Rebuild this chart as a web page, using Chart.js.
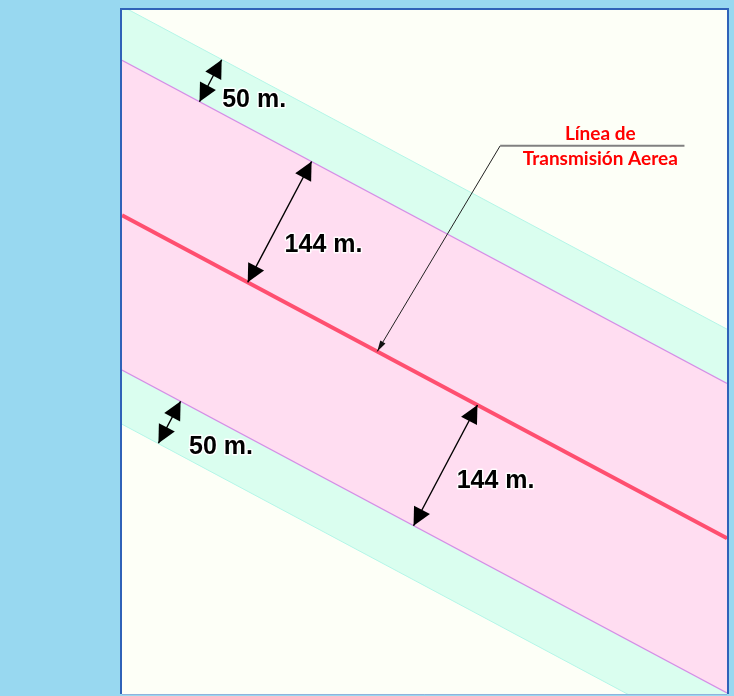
<!DOCTYPE html>
<html>
<head>
<meta charset="utf-8">
<script src="https://cdn.jsdelivr.net/npm/chart.js@4.4.1/dist/chart.umd.min.js"></script>
<style>
  html, body { margin: 0; padding: 0; background: #98D8F0; }
  #wrap { width: 734px; height: 696px; }
</style>
</head>
<body>
<div id="wrap"><canvas id="franja" width="734" height="696"></canvas></div>
<script>
//
// Franja de servidumbre - linea de transmision
//

// Extent of the plan, in metres
var X_RANGE = [0, 640];
var Y_RANGE = [0, 720];

// Each boundary line runs from x = 0 to x = 640 (y values in metres)
var LINE_X = [0, 640];
var GREEN_UPPER = [724, 384];
var PINK_UPPER = [667, 327];
var CENTER_LINE = [504, 164];
var PINK_LOWER = [341, 1];
var GREEN_LOWER = [284, -56];

// Dimension arrows: base line, position along x, span in metres (+ = up side)
var DIM_BASE = ['pinkUpper', 'center', 'pinkLower', 'center'];
var DIM_X = [82, 133, 62, 376];
var DIM_SPAN = [50, 144, -50, -144];
var DIM_LABELS = ['50 m.', '144 m.', '50 m.', '144 m.'];
var DIM_LABEL_X = [106, 172, 71, 354];
var DIM_LABEL_Y = [625, 473, 260, 224];

// Callout
var CALLOUT_LINES = ['Línea de', 'Transmisión Aerea'];
var CALLOUT_TIP_X = 270;
var CALLOUT_ELBOW = [400, 577];
var CALLOUT_END_X = 595;


function pts(ys) {
	return LINE_X.map(function(x, i) { return { x: x, y: ys[i] }; });
}

function lineY(ys, x) {
	return ys[0] + (ys[1] - ys[0]) * (x - LINE_X[0]) / (LINE_X[1] - LINE_X[0]);
}

var baseLines = { pinkUpper: PINK_UPPER, center: CENTER_LINE, pinkLower: PINK_LOWER };

// unit normal to the lines (pointing up / right)
var dx = LINE_X[1] - LINE_X[0], dy = CENTER_LINE[1] - CENTER_LINE[0];
var len = Math.sqrt(dx * dx + dy * dy);
var NX = -dy / len, NY = dx / len;

function arrowHead(ctx, x1, y1, x2, y2, l, w) {
	// filled head with tip at (x2, y2)
	var a = Math.atan2(y2 - y1, x2 - x1);
	ctx.beginPath();
	ctx.moveTo(x2, y2);
	ctx.lineTo(x2 - l * Math.cos(a) + w * Math.sin(a), y2 - l * Math.sin(a) - w * Math.cos(a));
	ctx.lineTo(x2 - l * Math.cos(a) - w * Math.sin(a), y2 - l * Math.sin(a) + w * Math.cos(a));
	ctx.closePath();
	ctx.fill();
}

var backdrop = {
	id: 'backdrop',
	beforeDraw: function(chart) {
		var ctx = chart.ctx, a = chart.chartArea;
		ctx.save();
		ctx.fillStyle = '#98D8F0';
		ctx.fillRect(0, 0, chart.width, chart.height);
		ctx.fillStyle = '#FDFFF7';
		ctx.fillRect(a.left, a.top, a.right - a.left, a.bottom - a.top);
		ctx.restore();
	}
};

var annotations = {
	id: 'annotations',
	afterDatasetsDraw: function(chart) {
		var ctx = chart.ctx, a = chart.chartArea;
		var xs = chart.scales.x, ys = chart.scales.y;
		ctx.save();

		// panel frame
		ctx.strokeStyle = '#2F62B8';
		ctx.lineWidth = 2;
		ctx.beginPath();
		ctx.moveTo(a.left - 1, a.bottom);
		ctx.lineTo(a.left - 1, a.top - 1);
		ctx.lineTo(a.right + 1, a.top - 1);
		ctx.lineTo(a.right + 1, a.bottom);
		ctx.stroke();
		ctx.strokeStyle = '#8FB3DC';
		ctx.lineWidth = 1;
		ctx.beginPath();
		ctx.moveTo(a.left, a.bottom + 0.5);
		ctx.lineTo(a.right, a.bottom + 0.5);
		ctx.stroke();

		// dimension arrows
		ctx.strokeStyle = '#000';
		ctx.fillStyle = '#000';
		ctx.lineWidth = 1.4;
		DIM_X.forEach(function(x0, i) {
			var y0 = lineY(baseLines[DIM_BASE[i]], x0);
			var x1 = x0 + NX * DIM_SPAN[i], y1 = y0 + NY * DIM_SPAN[i];
			var p0x = xs.getPixelForValue(x0), p0y = ys.getPixelForValue(y0);
			var p1x = xs.getPixelForValue(x1), p1y = ys.getPixelForValue(y1);
			ctx.beginPath();
			ctx.moveTo(p0x, p0y);
			ctx.lineTo(p1x, p1y);
			ctx.stroke();
			arrowHead(ctx, p1x, p1y, p0x, p0y, 18, 9);
			arrowHead(ctx, p0x, p0y, p1x, p1y, 18, 9);
		});

		// dimension labels
		ctx.font = 'bold 25px "Liberation Sans", Arial, sans-serif';
		ctx.textBaseline = 'middle';
		ctx.textAlign = 'left';
		ctx.lineJoin = 'round';
		DIM_LABELS.forEach(function(t, i) {
			var px = xs.getPixelForValue(DIM_LABEL_X[i]), py = ys.getPixelForValue(DIM_LABEL_Y[i]);
			ctx.strokeStyle = 'rgba(255,255,255,0.9)';
			ctx.lineWidth = 3;
			ctx.strokeText(t, px, py);
			ctx.fillStyle = '#000';
			ctx.fillText(t, px, py);
		});

		// callout leader
		var tx = xs.getPixelForValue(CALLOUT_TIP_X), ty = ys.getPixelForValue(lineY(CENTER_LINE, CALLOUT_TIP_X));
		var ex = xs.getPixelForValue(CALLOUT_ELBOW[0]), ey = ys.getPixelForValue(CALLOUT_ELBOW[1]);
		var hx = xs.getPixelForValue(CALLOUT_END_X);
		ctx.strokeStyle = '#222';
		ctx.fillStyle = '#111';
		ctx.lineWidth = 1;
		ctx.beginPath();
		ctx.moveTo(ex, ey);
		ctx.lineTo(tx, ty);
		ctx.stroke();
		arrowHead(ctx, ex, ey, tx, ty, 11, 3);
		ctx.strokeStyle = '#808080';
		ctx.lineWidth = 2;
		ctx.beginPath();
		ctx.moveTo(ex, ey);
		ctx.lineTo(hx, ey);
		ctx.stroke();

		// callout text
		ctx.fillStyle = '#FF0000';
		ctx.font = 'bold 19px Lato, "Open Sans", sans-serif';
		ctx.textAlign = 'center';
		ctx.textBaseline = 'middle';
		var cx = (ex + hx) / 2 + 8;
		ctx.fillText(CALLOUT_LINES[0], cx, ey - 12);
		ctx.fillText(CALLOUT_LINES[1], cx, ey + 13);

		ctx.restore();
	}
};

var $chart = document.getElementById('franja');

var franjaChart = new Chart($chart, {
	type: 'line',
	data: {
		datasets: [{
			label: 'Franja 50 m (superior)',
			data: pts(GREEN_UPPER),
			borderColor: '#B4F6E8',
			borderWidth: 1,
			backgroundColor: '#DAFEEF',
			fill: '+1'
		}, {
			label: 'Franja 144 m',
			data: pts(PINK_UPPER),
			borderColor: '#D48EE6',
			borderWidth: 1.2,
			backgroundColor: '#FFDDF1',
			fill: 3
		}, {
			label: 'Línea de Transmisión Aerea',
			data: pts(CENTER_LINE),
			borderColor: '#FF4F70',
			borderWidth: 4,
			fill: false
		}, {
			label: 'Franja 144 m (inferior)',
			data: pts(PINK_LOWER),
			borderColor: '#D48EE6',
			borderWidth: 1.2,
			backgroundColor: '#DAFEEF',
			fill: '+1'
		}, {
			label: 'Franja 50 m (inferior)',
			data: pts(GREEN_LOWER),
			borderColor: '#B4F6E8',
			borderWidth: 1,
			fill: false
		}]
	},
	options: {
		responsive: false,
		animation: false,
		events: [],
		layout: { padding: { left: 122, top: 10, right: 7, bottom: 2 } },
		elements: { point: { radius: 0 }, line: { tension: 0 } },
		datasets: { line: { clip: 0 } },
		scales: {
			x: { type: 'linear', min: X_RANGE[0], max: X_RANGE[1], display: false },
			y: { type: 'linear', min: Y_RANGE[0], max: Y_RANGE[1], display: false }
		},
		plugins: {
			legend: { display: false },
			tooltip: { enabled: false },
			filler: { drawTime: 'beforeDatasetsDraw', propagate: false }
		}
	},
	plugins: [backdrop, annotations]
});
</script>
</body>
</html>
